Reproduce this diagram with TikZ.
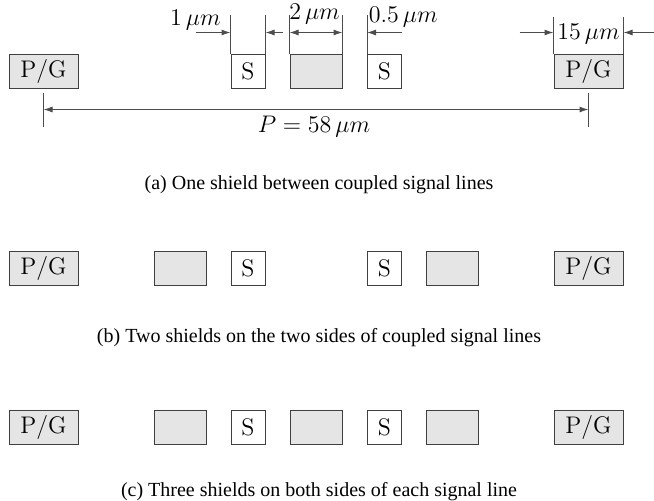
\documentclass[tikz,border=0pt]{standalone}
\usepackage[no-math]{fontspec}
\setmainfont{Liberation Serif}
\usetikzlibrary{arrows.meta}
\begin{document}
\begin{tikzpicture}[x=0.5pt,y=-0.5pt,
 box/.style={draw=black!75, line width=0.5pt, inner sep=0pt, minimum height=17pt, font=\fontsize{12}{14}\selectfont},
 pg/.style={box, fill=black!10, minimum width=34.5pt},
 sig/.style={box, fill=white, minimum width=17pt},
 shield/.style={box, fill=black!10, minimum width=26pt},
 dim/.style={draw=black!70, line width=0.5pt},
 tip/.style={-{Latex[length=4.5pt,width=3pt]}},
 both/.style={{Latex[length=4.5pt,width=3pt]}-{Latex[length=4.5pt,width=3pt]}},
 lbl/.style={inner sep=0pt, font=\fontsize{12}{14}\selectfont},
 captxt/.style={inner sep=0pt, font=\fontsize{10}{12}\selectfont}]
\useasboundingbox (0,0) rectangle (654,500);
% ---------- row (a)
\node[pg]     (a1) at (43.5,71)  {$\mathrm{P/G}$};
\node[sig]    (a2) at (248,71)   {$\mathrm{S}$};
\node[shield] (a3) at (316,71)   {};
\node[sig]    (a4) at (384.5,71) {$\mathrm{S}$};
\node[pg]     (a5) at (588.5,71) {$\mathrm{P/G}$};
% ticks
\draw[dim] (a2.north west) -- ++(0,-39);
\draw[dim] (a2.north east) -- ++(0,-39);
\draw[dim] (a3.north west) -- ++(0,-39);
\draw[dim] (a3.north east) -- ++(0,-39);
\draw[dim] (a4.north west) -- ++(0,-39);
\draw[dim] (a5.north west) -- ++(0,-37);
\draw[dim] (a5.north east) -- ++(0,-37);
% dimension points
\coordinate (d1) at ([yshift=10.5pt]a2.north west);
\coordinate (d2) at ([yshift=10.5pt]a2.north east);
\coordinate (d3) at ([yshift=10.5pt]a3.north west);
\coordinate (d4) at ([yshift=10.5pt]a3.north east);
\coordinate (d5) at ([yshift=10.5pt]a4.north west);
\coordinate (d6) at ([yshift=10.5pt]a5.north west);
\coordinate (d7) at ([yshift=10.5pt]a5.north east);
\coordinate (e1) at ([xshift=-17.5pt]d1);
\coordinate (e2) at ([xshift=8.5pt]d2);
\coordinate (e5) at ([xshift=17.5pt]d5);
\coordinate (e6) at ([xshift=-17pt]d6);
\coordinate (e7) at ([xshift=15pt]d7);
\draw[dim,tip] (e1) -- (d1);
\draw[dim,tip] (e2) -- (d2);
\draw[dim,both] (d3) -- (d4);
\draw[dim,tip] (e5) -- (d5);
\draw[dim,tip] (e6) -- (d6);
\draw[dim,tip] (e7) -- (d7);
\node[lbl,anchor=base east] (l1) at (221,25) {$1\,\mu m$};
\node[lbl,anchor=base] (l2) at (314.5,19) {$2\,\mu m$};
\node[lbl,anchor=base west] (l3) at (368.5,22) {$0.5\,\mu m$};
\node[lbl] (l4) at (588.5,34) {$15\,\mu m$};
% bottom dimension
\draw[dim] ([yshift=-2pt]a1.south) -- ++(0,34);
\draw[dim] ([yshift=-2pt]a5.south) -- ++(0,34);
\coordinate (b1) at ([yshift=-10.5pt]a1.south);
\coordinate (b2) at ([yshift=-10.5pt]a5.south);
\draw[dim,both] (b1) -- (b2);
\node[lbl,anchor=base] (l5) at (314,132) {$P = 58\,\mu m$};
\node[captxt,anchor=base] (ca) at (319,189) {(a) One shield between coupled signal lines};
% ---------- row (b)
\node[pg]     (b1n) at (43.5,268)  {$\mathrm{P/G}$};
\node[shield] (b2n) at (180,268)   {};
\node[sig]    (b3n) at (248,268)   {$\mathrm{S}$};
\node[sig]    (b4n) at (384.5,268) {$\mathrm{S}$};
\node[shield] (b5n) at (452,268)   {};
\node[pg]     (b6n) at (588.5,268) {$\mathrm{P/G}$};
\node[captxt,anchor=base] (cb) at (319,342) {(b) Two shields on the two sides of coupled signal lines};
% ---------- row (c)
\node[pg]     (c1) at (43.5,427)  {$\mathrm{P/G}$};
\node[shield] (c2) at (180,427)   {};
\node[sig]    (c3) at (248,427)   {$\mathrm{S}$};
\node[shield] (c4) at (316,427)   {};
\node[sig]    (c5) at (384.5,427) {$\mathrm{S}$};
\node[shield] (c6) at (452,427)   {};
\node[pg]     (c7) at (588.5,427) {$\mathrm{P/G}$};
\node[captxt,anchor=base] (cc) at (319,496) {(c) Three shields on both sides of each signal line};
\end{tikzpicture}
\end{document}
